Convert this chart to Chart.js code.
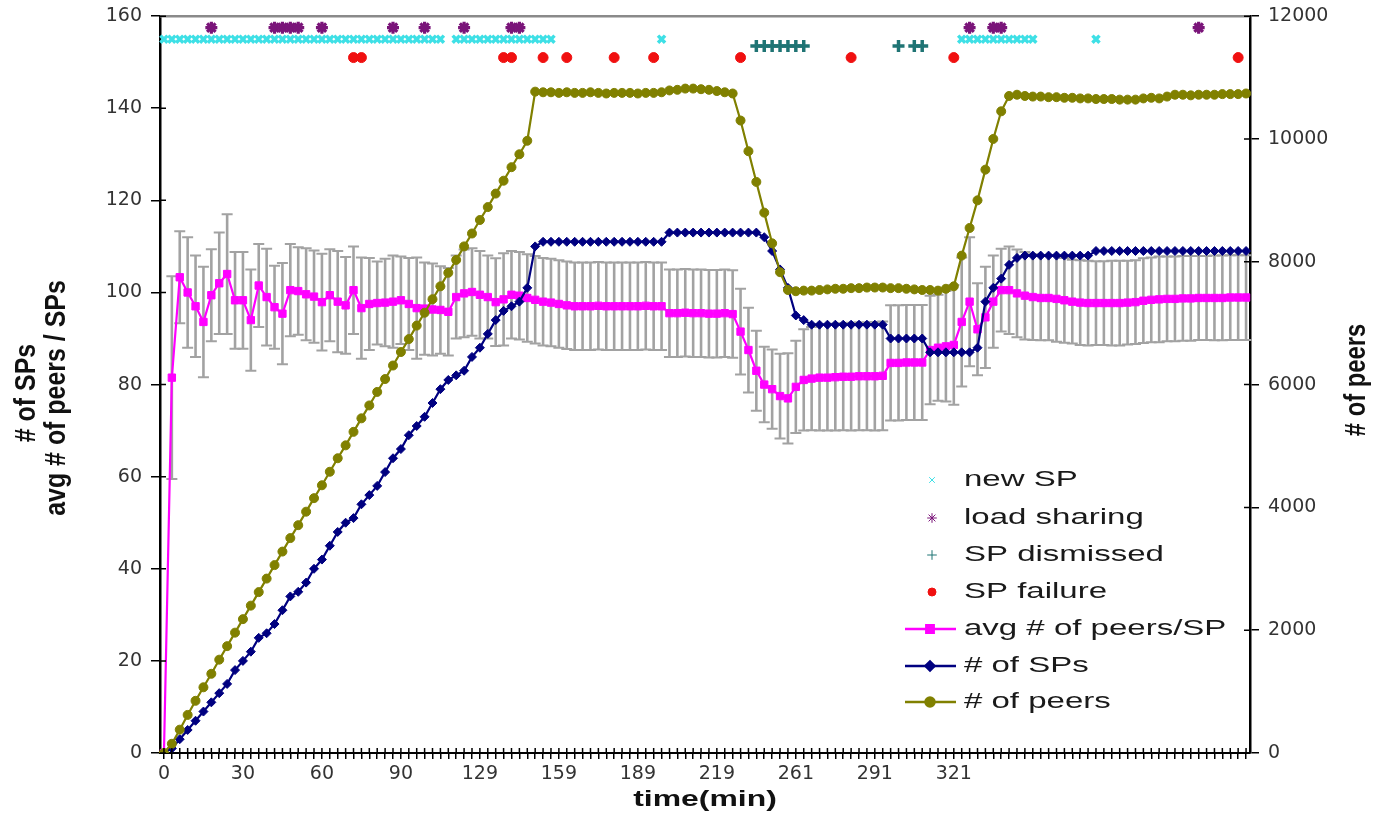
<!DOCTYPE html>
<html>
<head>
<meta charset="utf-8">
<script src="https://cdn.jsdelivr.net/npm/chart.js@4/dist/chart.umd.min.js"></script>
<style>
  html, body { margin: 0; padding: 0; background: #fff; }
  #wrap { width: 1379px; height: 814px; }
</style>
</head>
<body>
<div id="wrap"><canvas id="c" width="1379" height="814"></canvas></div>
<script>
// x-axis tick labels (minutes), one every TICK_EVERY samples
const TICK_LABELS = ['0', '30', '60', '90', '129', '159', '189', '219', '261', '291', '321'];
const TICK_EVERY = 10;

// number of super-peers per sample
const SP_COUNT = [
  0, 1, 3, 5, 7, 9, 11, 13, 15, 18,
  20, 22, 25, 26, 28, 31, 34, 35, 37, 40,
  42, 45, 48, 50, 51, 54, 56, 58, 61, 64,
  66, 69, 71, 73, 76, 79, 81, 82, 83, 86,
  88, 91, 94, 96, 97, 98, 101, 110, 111, 111,
  111, 111, 111, 111, 111, 111, 111, 111, 111, 111,
  111, 111, 111, 111, 113, 113, 113, 113, 113, 113,
  113, 113, 113, 113, 113, 113, 112, 109, 105, 101,
  95, 94, 93, 93, 93, 93, 93, 93, 93, 93,
  93, 93, 90, 90, 90, 90, 90, 87, 87, 87,
  87, 87, 87, 88, 98, 101, 103, 106, 107.5, 108,
  108, 108, 108, 108, 108, 108, 108, 108, 109, 109,
  109, 109, 109, 109, 109, 109, 109, 109, 109, 109,
  109, 109, 109, 109, 109, 109, 109, 109
];

// number of peers per sample (right axis)
const PEERS = [
  0, 150, 380, 620, 850, 1070, 1290, 1520, 1740, 1960,
  2180, 2400, 2620, 2840, 3060, 3280, 3500, 3710, 3930, 4150,
  4360, 4580, 4800, 5010, 5230, 5450, 5660, 5880, 6090, 6310,
  6530, 6740, 6960, 7170, 7390, 7600, 7820, 8030, 8250, 8460,
  8680, 8890, 9110, 9320, 9540, 9750, 9970, 10770, 10760, 10760,
  10750, 10760, 10750, 10750, 10760, 10750, 10740, 10750, 10750, 10750,
  10740, 10750, 10750, 10760, 10790, 10800, 10820, 10820, 10810, 10800,
  10780, 10760, 10740, 10300, 9800, 9300, 8800, 8300, 7830, 7540,
  7520, 7530, 7530, 7540, 7550, 7560, 7560, 7570, 7570, 7580,
  7580, 7580, 7570, 7570, 7560, 7550, 7540, 7540, 7530, 7560,
  7600, 8100, 8550, 9000, 9500, 10000, 10450, 10700, 10720, 10700,
  10690, 10690, 10680, 10680, 10670, 10670, 10660, 10660, 10650, 10650,
  10650, 10640, 10640, 10640, 10660, 10670, 10660, 10690, 10720, 10720,
  10710, 10720, 10720, 10720, 10730, 10730, 10730, 10740
];

// average number of peers per super-peer
const AVG_PEERS_PER_SP = [
  0, 81.5, 103.3, 100, 97, 93.6, 99.4, 102, 104, 98.3,
  98.3, 94, 101.5, 99, 96.8, 95.4, 100.5, 100.3, 99.6, 99.1,
  97.9, 99.4, 98, 97.2, 100.5, 96.6, 97.5, 97.7, 97.8, 98,
  98.3, 97.5, 96.6, 96.5, 96.3, 96.2, 95.8, 99, 99.8, 100.1,
  99.5, 99, 97.9, 98.5, 99.5, 99.3, 98.8, 98.4, 98, 97.8,
  97.5, 97.2, 97, 97, 97, 97.1, 97, 97, 97, 97,
  97, 97.1, 97, 97, 95.5, 95.5, 95.6, 95.5, 95.5, 95.4,
  95.4, 95.5, 95.3, 91.5, 87.5, 83, 80, 79, 77.5, 77,
  79.5, 81, 81.3, 81.5, 81.5, 81.6, 81.7, 81.7, 81.8, 81.8,
  81.8, 81.9, 84.7, 84.7, 84.8, 84.8, 84.8, 87.5, 88, 88.3,
  88.6, 93.6, 98, 92, 94.6, 98, 100.5, 100.5, 99.8, 99.3,
  99, 98.8, 98.8, 98.6, 98.3, 98, 97.8, 97.7, 97.7, 97.7,
  97.7, 97.7, 97.8, 97.9, 98.2, 98.4, 98.5, 98.6, 98.6, 98.7,
  98.7, 98.8, 98.8, 98.8, 98.8, 98.9, 98.9, 98.9
];

// half-length of the error bar on the average
const AVG_ERROR = [
  0, 22, 10, 12, 11, 12, 10, 11, 13, 10.5,
  10.5, 11, 9, 10.5, 9, 11, 10, 9.5, 10, 10,
  10.5, 10, 11, 10.5, 9.5, 11, 10, 9, 9.5, 10,
  9.5, 10, 11, 10, 10, 9.5, 9.5, 9, 9.5, 9.5,
  9.5, 9, 9.5, 10, 9.5, 9.5, 9.5, 9.5, 9.5, 9.5,
  9.5, 9.5, 9.5, 9.5, 9.5, 9.5, 9.5, 9.5, 9.5, 9.5,
  9.5, 9.5, 9.5, 9.5, 9.5, 9.5, 9.5, 9.5, 9.5, 9.5,
  9.5, 9.5, 9.5, 9.3, 9.2, 8.7, 8.2, 8.6, 9.2, 9.8,
  10, 11, 11.2, 11.5, 11.5, 11.6, 11.6, 11.7, 11.7, 11.7,
  11.8, 11.8, 12.5, 12.5, 12.5, 12.5, 12.5, 11.8, 11.5, 12,
  13, 14, 14, 10, 11, 10, 9, 9.5, 9.5, 9.5,
  9.3, 9.2, 9.2, 9.3, 9.2, 9.1, 9.2, 9.2, 9.1, 9.1,
  9.2, 9.2, 9.1, 9.1, 9.2, 9.2, 9.3, 9.2, 9.2, 9.2,
  9.2, 9.1, 9.1, 9.2, 9.2, 9.2, 9.2, 9.2
];

// sample indices at which each event happened
const NEW_SP_AT = [
  0, 1, 2, 3, 4, 5, 6, 7, 8, 9, 10, 11, 12, 13, 14, 15, 16, 17, 18, 19,
  20, 21, 22, 23, 24, 25, 26, 27, 28, 29, 30, 31, 32, 33, 34, 35,
  37, 38, 39, 40, 41, 42, 43, 44, 45, 46, 47, 48, 49,
  63, 101, 102, 103, 104, 105, 106, 107, 108, 109, 110, 118
];
const LOAD_SHARING_AT = [6, 14, 15, 16, 17, 20, 29, 33, 38, 44, 45, 102, 105, 106, 131];
const SP_DISMISSED_AT = [75, 76, 77, 78, 79, 80, 81, 93, 95, 96];
const SP_FAILURE_AT = [24, 25, 43, 44, 48, 51, 57, 62, 73, 87, 100, 136];

// row (left-axis value) at which each event type is marked
const ROW_NEW_SP = 155;
const ROW_LOAD_SHARING = 157.5;
const ROW_SP_DISMISSED = 153.5;
const ROW_SP_FAILURE = 151;

const N = SP_COUNT.length;
const CATEGORY_LABELS = Array.from({ length: N }, (_, i) =>
  i % TICK_EVERY === 0 && TICK_LABELS[i / TICK_EVERY] !== undefined ? TICK_LABELS[i / TICK_EVERY] : '');

function eventRow(indices, level) {
  const row = new Array(N).fill(null);
  indices.forEach(i => { row[i] = level; });
  return row;
}

const COLORS = {
  newSp: '#3EE0E6',
  load: '#7A1479',
  dismissed: '#1F7474',
  failure: '#F01010',
  avg: '#FF00FF',
  sp: '#000080',
  peers: '#808000',
  err: '#A2A2A2'
};

const eventDataset = (label, data, color, style, radius, bw) => ({
  label, data, yAxisID: 'y', showLine: false,
  pointStyle: style, pointRadius: radius, pointBorderWidth: bw,
  borderColor: color, backgroundColor: color,
  pointBorderColor: color, pointBackgroundColor: color
});

const datasets = [
  eventDataset('new SP', eventRow(NEW_SP_AT, ROW_NEW_SP), COLORS.newSp, 'crossRot', 5, 3.5),
  eventDataset('load sharing', eventRow(LOAD_SHARING_AT, ROW_LOAD_SHARING), COLORS.load, 'star', 6, 3.2),
  eventDataset('SP dismissed', eventRow(SP_DISMISSED_AT, ROW_SP_DISMISSED), COLORS.dismissed, 'cross', 6, 3.5),
  eventDataset('SP failure', eventRow(SP_FAILURE_AT, ROW_SP_FAILURE), COLORS.failure, 'circle', 5, 1),
  {
    label: '# of peers', data: PEERS, yAxisID: 'y2',
    borderColor: COLORS.peers, backgroundColor: COLORS.peers, borderWidth: 2.2,
    pointStyle: 'circle', pointRadius: 4.5, pointBorderWidth: 1,
    pointBackgroundColor: COLORS.peers, pointBorderColor: COLORS.peers, tension: 0
  },
  {
    label: '# of SPs', data: SP_COUNT, yAxisID: 'y',
    borderColor: COLORS.sp, backgroundColor: COLORS.sp, borderWidth: 2.2,
    pointStyle: 'rectRot', pointRadius: 4.5, pointBorderWidth: 1,
    pointBackgroundColor: COLORS.sp, pointBorderColor: COLORS.sp, tension: 0
  },
  {
    label: 'avg # of peers/SP', data: AVG_PEERS_PER_SP, yAxisID: 'y',
    borderColor: COLORS.avg, backgroundColor: COLORS.avg, borderWidth: 2.2,
    pointStyle: 'rect', pointRadius: 5.2, pointBorderWidth: 1,
    pointBackgroundColor: COLORS.avg, pointBorderColor: COLORS.avg, tension: 0
  }
];

// legend rows: the four event types, then the average, SP count and peer count
const LEGEND_ORDER = [0, 1, 2, 3, 6, 5, 4];

// grey error bars behind the series
const errorBars = {
  id: 'errorBars',
  beforeDatasetsDraw(chart) {
    const { ctx } = chart;
    const x = chart.scales.x, y = chart.scales.y;
    ctx.save();
    ctx.strokeStyle = COLORS.err;
    AVG_PEERS_PER_SP.forEach((v, i) => {
      const e = AVG_ERROR[i];
      if (!e) return;
      const px = x.getPixelForValue(i);
      const top = y.getPixelForValue(v + e);
      const bot = y.getPixelForValue(v - e);
      ctx.lineWidth = 2.6;
      ctx.beginPath(); ctx.moveTo(px, top); ctx.lineTo(px, bot); ctx.stroke();
      ctx.lineWidth = 2;
      ctx.beginPath();
      ctx.moveTo(px - 5.5, top); ctx.lineTo(px + 5.5, top);
      ctx.moveTo(px - 5.5, bot); ctx.lineTo(px + 5.5, bot);
      ctx.stroke();
    });
    ctx.restore();
  }
};

function drawText(ctx, text, cx, cy, font, color, rot, sx) {
  ctx.save();
  ctx.translate(cx, cy);
  if (rot) ctx.rotate(rot);
  ctx.scale(sx || 1, 1);
  ctx.font = font;
  ctx.fillStyle = color;
  ctx.textAlign = 'center';
  ctx.textBaseline = 'middle';
  ctx.fillText(text, 0, 0);
  ctx.restore();
}

// frame, inner tick halves, axis titles and legend
const decorations = {
  id: 'decorations',
  afterDraw(chart) {
    const { ctx, chartArea: a } = chart;
    const x = chart.scales.x, y = chart.scales.y, y2 = chart.scales.y2;
    ctx.save();
    ctx.strokeStyle = '#8a8a8a';
    ctx.lineWidth = 2.5;
    ctx.beginPath(); ctx.moveTo(a.left, a.top); ctx.lineTo(a.right, a.top); ctx.stroke();
    ctx.strokeStyle = '#000';
    ctx.lineWidth = 1.5;
    ctx.beginPath();
    y.ticks.forEach(t => { const p = y.getPixelForValue(t.value); ctx.moveTo(a.left, p); ctx.lineTo(a.left + 6, p); });
    y2.ticks.forEach(t => { const p = y2.getPixelForValue(t.value); ctx.moveTo(a.right - 6, p); ctx.lineTo(a.right, p); });
    for (let i = 0; i < N; i++) { const p = x.getPixelForValue(i); ctx.moveTo(p, a.bottom - 5); ctx.lineTo(p, a.bottom); }
    ctx.stroke();
    ctx.restore();

    // axis titles
    const titleFont = 'bold 29px "Liberation Sans", Arial, sans-serif';
    drawText(ctx, '# of SPs', 27, 393, titleFont, '#111', -Math.PI / 2, 0.86);
    drawText(ctx, 'avg # of peers / SPs', 57, 398, titleFont, '#111', -Math.PI / 2, 0.86);
    drawText(ctx, '# of peers', 1357, 380, titleFont, '#111', -Math.PI / 2, 0.82);
    drawText(ctx, 'time(min)', 705, 800, 'bold 22px "Liberation Sans", Arial, sans-serif', '#111', 0, 1.45);

    // legend
    const rows = [480, 518, 555, 592, 629, 666, 702];
    const textX = 964;
    LEGEND_ORDER.forEach((di, k) => {
      const ds = chart.data.datasets[di];
      const ry = rows[k];
      ctx.save();
      ctx.strokeStyle = ds.borderColor;
      ctx.fillStyle = ds.pointBackgroundColor;
      if (ds.showLine === false) {
        Chart.helpers.drawPoint(ctx, { pointStyle: ds.pointStyle, radius: ds.pointRadius * 0.8, borderWidth: ds.pointBorderWidth * 0.8, rotation: 0 }, 932, ry);
      } else {
        ctx.lineWidth = 2.5;
        ctx.beginPath(); ctx.moveTo(905, ry); ctx.lineTo(956, ry); ctx.stroke();
        Chart.helpers.drawPoint(ctx, { pointStyle: ds.pointStyle, radius: ds.pointRadius, borderWidth: 1, rotation: 0 }, 930, ry);
      }
      ctx.translate(textX, ry);
      ctx.scale(1.5, 1);
      ctx.font = '22px "Liberation Sans", Arial, sans-serif';
      ctx.fillStyle = '#1a1a1a';
      ctx.textAlign = 'left';
      ctx.textBaseline = 'middle';
      ctx.fillText(ds.label, 0, 0);
      ctx.restore();
    });
  }
};

const tickFont = { family: 'DejaVu Sans', size: 19 };
const yTickFont = { family: 'DejaVu Sans', size: 19, lineHeight: 0.75 };

const chart = new Chart(document.getElementById('c'), {
  type: 'line',
  data: { labels: CATEGORY_LABELS, datasets },
  options: {
    responsive: false,
    animation: false,
    events: [],
    devicePixelRatio: 1,
    layout: { padding: { top: 16, left: 0, right: 0, bottom: 0 } },
    plugins: { legend: { display: false }, tooltip: { enabled: false } },
    scales: {
      x: {
        type: 'category',
        offset: true,
        grid: { display: true, drawOnChartArea: false, drawTicks: true, tickLength: 6, color: '#000', lineWidth: 1.5 },
        border: { display: true, color: '#000', width: 2 },
        ticks: {
          autoSkip: false, maxRotation: 0, minRotation: 0, padding: 4,
          font: tickFont, color: '#333',
          callback: (v, i) => CATEGORY_LABELS[i]
        },
        afterFit: s => { s.height = 61; }
      },
      y: {
        position: 'left', min: 0, max: 160,
        grid: { display: true, drawOnChartArea: false, drawTicks: true, tickLength: 9, color: '#000', lineWidth: 1.5 },
        border: { display: true, color: '#000', width: 2.5 },
        ticks: { stepSize: 20, padding: 9, font: yTickFont, color: '#333', callback: v => String(v) },
        afterFit: s => { s.width = 160; }
      },
      y2: {
        position: 'right', min: 0, max: 12000,
        grid: { display: true, drawOnChartArea: false, drawTicks: true, tickLength: 9, color: '#000', lineWidth: 1.5 },
        border: { display: true, color: '#000', width: 2.5 },
        ticks: { stepSize: 2000, padding: 9, font: yTickFont, color: '#333', callback: v => String(v) },
        afterFit: s => { s.width = 129; }
      }
    }
  },
  plugins: [errorBars, decorations]
});
</script>
</body>
</html>
